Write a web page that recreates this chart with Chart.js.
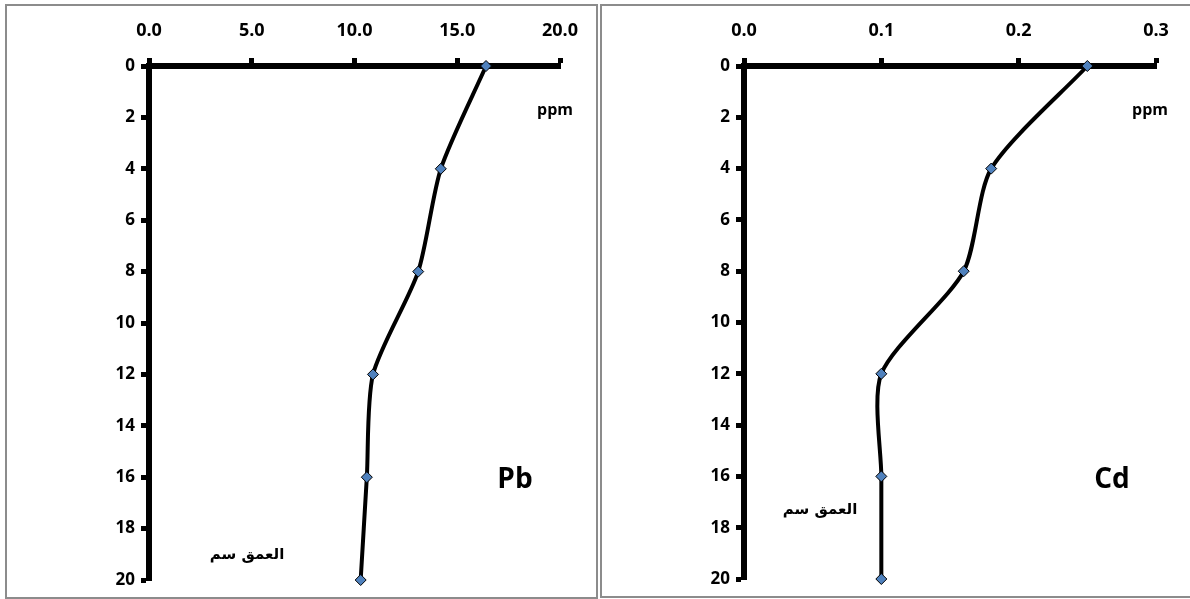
<!DOCTYPE html>
<html>
<head>
<meta charset="utf-8">
<script src="https://cdn.jsdelivr.net/npm/chart.js@4/dist/chart.umd.min.js"></script>
<style>
  body { margin: 0; background: #fff; width: 1190px; height: 599px; overflow: hidden; position: relative; }
  .panel { position: absolute; top: 4px; border: 2px solid #8c8c8c; box-sizing: border-box; background: #fff; }
  #panel-pb { left: 5px; width: 593px; height: 595px; }
  #panel-cd { left: 600px; width: 594px; height: 594px; }
  canvas { display: block; }
</style>
</head>
<body>
<div class="panel" id="panel-pb"><canvas id="chart-pb" width="589" height="591"></canvas></div>
<div class="panel" id="panel-cd"><canvas id="chart-cd" width="590" height="590"></canvas></div>
<script>
// depth in cm (shared by both profiles)
const depths = [0, 4, 8, 12, 16, 20]

// concentration in ppm
const pbValues = [16.4, 14.2, 13.1, 10.9, 10.6, 10.3]
const cdValues = [0.25, 0.18, 0.16, 0.10, 0.10, 0.10]

const depthTicks = [0, 2, 4, 6, 8, 10, 12, 14, 16, 18, 20]
const pbTicks = [0, 5, 10, 15, 20]
const cdTicks = [0, 0.1, 0.2, 0.3]

const unitLabel = 'ppm'
const depthLabel = 'العمق سم'

const FONT = '"Open Sans", "DejaVu Sans", sans-serif'

const textPlugin = {
  id: 'panelText',
  afterDraw: (chart) => {
    const o = chart.options.plugins.panelText
    const ctx = chart.ctx
    ctx.save()
    ctx.fillStyle = '#000'
    ctx.textAlign = 'center'
    ctx.textBaseline = 'middle'
    ctx.font = 'bold 16px ' + FONT
    ctx.fillText(unitLabel, o.unit[0], o.unit[1])
    ctx.font = 'bold 28px ' + FONT
    ctx.fillText(o.name, o.nameAt[0], o.nameAt[1])
    ctx.font = 'bold 15px "DejaVu Sans", sans-serif'
    ctx.direction = 'rtl'
    ctx.fillText(depthLabel, o.depth[0], o.depth[1])
    ctx.restore()
  }
}

const makeChart = (id, values, xTicks, xMax, text) => {
  const ctx = document.getElementById(id).getContext('2d')
  return new Chart(ctx, {
    type: 'line',
    data: {
      datasets: [{
        data: depths.map((d, i) => ({ x: values[i], y: d })),
        borderColor: '#000',
        borderWidth: 4,
        tension: 0.25,
        pointStyle: 'rectRot',
        pointRadius: 5.5,
        pointBackgroundColor: '#4F81BD',
        pointBorderColor: '#000',
        pointBorderWidth: 1,
        clip: false
      }]
    },
    options: {
      responsive: false,
      animation: false,
      layout: { padding: { left: 0, top: 0, right: 36, bottom: 17 } },
      plugins: {
        legend: { display: false },
        tooltip: { enabled: false },
        panelText: text
      },
      scales: {
        x: {
          type: 'linear',
          position: 'top',
          min: 0,
          max: xMax,
          afterBuildTicks: (scale) => { scale.ticks = xTicks.map(v => ({ value: v })) },
          afterFit: (scale) => { scale.height = 60 },
          ticks: {
            color: '#000',
            padding: 16,
            font: { family: FONT, size: 18, weight: 'bold' },
            callback: (v) => v.toFixed(1)
          },
          grid: { drawOnChartArea: false, drawTicks: true, tickLength: 8, tickWidth: 5, color: '#000' },
          border: { display: true, width: 6, color: '#000' }
        },
        y: {
          type: 'linear',
          reverse: true,
          min: 0,
          max: 20,
          afterBuildTicks: (scale) => { scale.ticks = depthTicks.map(v => ({ value: v })) },
          afterFit: (scale) => { scale.width = 142 },
          ticks: {
            color: '#000',
            padding: 6,
            font: { family: FONT, size: 17, weight: 'bold' }
          },
          grid: { drawOnChartArea: false, drawTicks: true, tickLength: 8, tickWidth: 5, color: '#000' },
          border: { display: true, width: 6, color: '#000' }
        }
      }
    },
    plugins: [textPlugin]
  })
}

makeChart('chart-pb', pbValues, pbTicks, 20, { name: 'Pb', unit: [548, 104], nameAt: [508, 474], depth: [240, 549] })
makeChart('chart-cd', cdValues, cdTicks, 0.3, { name: 'Cd', unit: [548, 104], nameAt: [510, 474], depth: [218, 504] })
</script>
</body>
</html>
